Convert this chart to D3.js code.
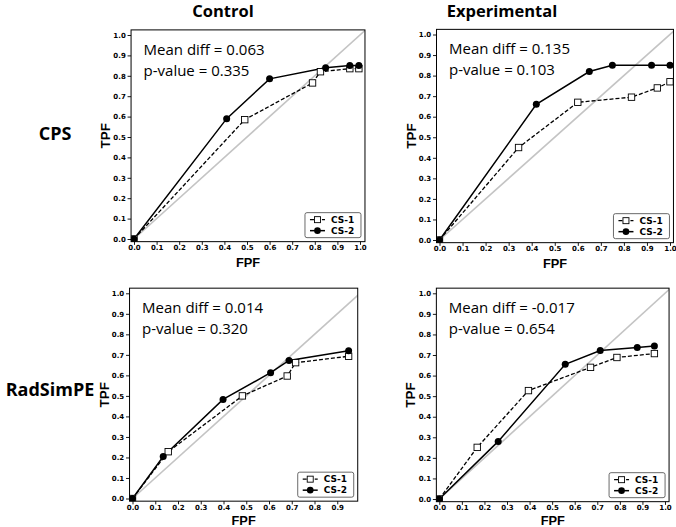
<!DOCTYPE html>
<html><head><meta charset="utf-8">
<script src="https://cdn.jsdelivr.net/npm/d3@7/dist/d3.min.js"></script>
<style>body{margin:0;background:#fff}svg{display:block}</style>
</head><body>
<svg id="c" width="676" height="527"></svg>
<script>
// ---- data ----
const columnTitles = ["Control", "Experimental"];
const rowTitles = ["CPS", "RadSimPE"];
const seriesNames = ["CS-1", "CS-2"];
const xTicks = [0,0.1,0.2,0.3,0.4,0.5,0.6,0.7,0.8,0.9,1.0];
const yTicks = [0,0.1,0.2,0.3,0.4,0.5,0.6,0.7,0.8,0.9,1.0];

const cpsControlCS1 = [[0,0],[0.49,0.585],[0.79,0.765],[0.825,0.82],[0.955,0.835],[0.995,0.835]];
const cpsControlCS2 = [[0,0],[0.41,0.59],[0.60,0.785],[0.848,0.84],[0.955,0.85],[0.995,0.85]];
const cpsExpCS1 = [[0,0],[0.343,0.45],[0.60,0.67],[0.833,0.695],[0.945,0.74],[1.0,0.77]];
const cpsExpCS2 = [[0,0],[0.42,0.66],[0.65,0.82],[0.75,0.85],[0.92,0.85],[1.0,0.85]];
const radControlCS1 = [[0,0],[0.157,0.228],[0.483,0.50],[0.68,0.597],[0.717,0.662],[0.95,0.693]];
const radControlCS2 = [[0,0],[0.135,0.205],[0.398,0.483],[0.607,0.613],[0.688,0.673],[0.95,0.72]];
const radExpCS1 = [[0,0],[0.168,0.251],[0.395,0.527],[0.67,0.64],[0.787,0.688],[0.953,0.707]];
const radExpCS2 = [[0,0],[0.261,0.28],[0.558,0.655],[0.713,0.722],[0.877,0.736],[0.953,0.744]];

const meanDiffs = ["0.063","0.135","0.014","-0.017"];
const pValues = ["0.335","0.103","0.320","0.654"];

// ---- layout (pixel positions of 0 and 1 on each axis) ----
const panels = [
  {cs1: cpsControlCS1, cs2: cpsControlCS2, md: meanDiffs[0], pv: pValues[0], px0:134, px1:360, py0:239, py1:35, xEnd:1.022},
  {cs1: cpsExpCS1, cs2: cpsExpCS2, md: meanDiffs[1], pv: pValues[1], px0:439.5, px1:670, py0:240, py1:34.5, xEnd:1.015},
  {cs1: radControlCS1, cs2: radControlCS2, md: meanDiffs[2], pv: pValues[2], px0:132.5, px1:360, py0:498.5, py1:293.3, xEnd:0.99},
  {cs1: radExpCS1, cs2: radExpCS2, md: meanDiffs[3], pv: pValues[3], px0:439.3, px1:665, py0:499, py1:293.3, xEnd:1.018}
];

const svg = d3.select("#c");
const tickFont = "DejaVu Sans";
const txtFont = "'Open Sans', 'Noto Sans', sans-serif";
const labFont = "'Liberation Sans', Arial, sans-serif";

// column titles
svg.append("text").attr("x",223).attr("y",17).attr("text-anchor","middle")
  .style("font-family",txtFont).style("font-weight","bold").style("font-size","16.5px").text(columnTitles[0]);
svg.append("text").attr("x",502).attr("y",17).attr("text-anchor","middle")
  .style("font-family",txtFont).style("font-weight","bold").style("font-size","16.5px").text(columnTitles[1]);
// row titles
svg.append("text").attr("x",55).attr("y",140).attr("text-anchor","middle")
  .style("font-family",txtFont).style("font-weight","bold").style("font-size","18px").text(rowTitles[0]);
svg.append("text").attr("x",50).attr("y",396).attr("text-anchor","middle")
  .style("font-family",txtFont).style("font-weight","bold").style("font-size","18px").text(rowTitles[1]);

panels.forEach((p,i)=>{
  const x = d3.scaleLinear().domain([0,1]).range([p.px0,p.px1]);
  const y = d3.scaleLinear().domain([0,1]).range([p.py0,p.py1]);
  const fl = x(-0.013), fr = x(p.xEnd), ft = y(1.025), fb = y(-0.013);
  const g = svg.append("g");
  const clipId = "clip"+i;
  g.append("clipPath").attr("id",clipId).append("rect")
    .attr("x",fl).attr("y",ft).attr("width",fr-fl).attr("height",fb-ft);

  // diagonal
  g.append("line").attr("clip-path",`url(#${clipId})`)
    .attr("x1",x(0)).attr("y1",y(0)).attr("x2",x(1.05)).attr("y2",y(1.05))
    .attr("stroke","#c4c4c4").attr("stroke-width",1.6);

  const line = d3.line().x(d=>x(d[0])).y(d=>y(d[1]));
  const pg = g.append("g").attr("clip-path",`url(#${clipId})`);
  pg.append("path").attr("d",line(p.cs1)).attr("fill","none").attr("stroke","#000")
    .attr("stroke-width",1.3).attr("stroke-dasharray","4,2");
  pg.append("path").attr("d",line(p.cs2)).attr("fill","none").attr("stroke","#000")
    .attr("stroke-width",1.5);
  pg.selectAll(".sq").data(p.cs1).enter().append("rect")
    .attr("x",d=>x(d[0])-3.2).attr("y",d=>y(d[1])-3.2).attr("width",6.4).attr("height",6.4)
    .attr("fill","#fff").attr("stroke","#000").attr("stroke-width",0.9);
  pg.selectAll(".ci").data(p.cs2).enter().append("circle")
    .attr("cx",d=>x(d[0])).attr("cy",d=>y(d[1])).attr("r",3.5).attr("fill","#000");

  // axes
  const ya = g.append("g").attr("transform",`translate(${fl},0)`)
    .call(d3.axisLeft(y).tickValues(yTicks).tickSize(3.5).tickPadding(1.8).tickFormat(d3.format(".1f")));
  const xTv = xTicks.filter(t=>t<=p.xEnd);
  const xa = g.append("g").attr("transform",`translate(0,${fb})`)
    .call(d3.axisBottom(x).tickValues(xTv).tickSize(3.2).tickPadding(0.6).tickFormat(d3.format(".1f")));
  [ya,xa].forEach(a=>{
    a.select(".domain").remove();
    a.selectAll("line").attr("stroke","#000").attr("stroke-width",0.9);
    a.selectAll("text").style("font-family",tickFont).style("font-weight","bold").style("font-size","7px").attr("fill","#000");
  });

  // frame
  g.append("rect").attr("x",fl).attr("y",ft).attr("width",fr-fl).attr("height",fb-ft)
    .attr("fill","none").attr("stroke","#000").attr("stroke-width",1);

  // axis labels
  const fpfY = Math.min(fb+25.5, 524.5);
  g.append("text").attr("x",(fl+fr)/2).attr("y",fpfY).attr("text-anchor","middle")
    .style("font-family",labFont).style("font-weight","bold").style("font-size","12.8px").text("FPF");
  g.append("text").attr("transform",`translate(${fl-21},${(ft+fb)/2}) rotate(-90)`).attr("text-anchor","middle")
    .style("font-family",labFont).style("font-weight","bold").style("font-size","13.5px").text("TPF");

  // annotations
  g.append("text").attr("x",fl+12.5).attr("y",ft+25).style("font-family",txtFont)
    .style("font-size","15px").text("Mean diff = "+p.md);
  g.append("text").attr("x",fl+12.5).attr("y",ft+46).style("font-family",txtFont)
    .style("font-size","15px").text("p-value = "+p.pv);

  // legend
  const lw = 56, lh = 25;
  const lx = fr - 4 - lw, ly = fb - 4 - lh;
  const lg = g.append("g");
  lg.append("rect").attr("x",lx).attr("y",ly).attr("width",lw).attr("height",lh).attr("rx",2)
    .attr("fill","#fff").attr("fill-opacity",0.85).attr("stroke","#444").attr("stroke-width",0.8);
  [0,1].forEach(k=>{
    const cy = ly + 7 + k*11;
    lg.append("line").attr("x1",lx+5).attr("x2",lx+20).attr("y1",cy).attr("y2",cy)
      .attr("stroke","#000").attr("stroke-width",k?1.5:1.3).attr("stroke-dasharray",k?null:"4,2");
    if(k===0){
      lg.append("rect").attr("x",lx+12.5-3).attr("y",cy-3).attr("width",6).attr("height",6)
        .attr("fill","#fff").attr("stroke","#000").attr("stroke-width",0.9);
    } else {
      lg.append("circle").attr("cx",lx+12.5).attr("cy",cy).attr("r",3.3).attr("fill","#000");
    }
    lg.append("text").attr("x",lx+26).attr("y",cy+3.2).style("font-family",tickFont)
      .style("font-weight","bold").style("font-size","9px").text(seriesNames[k]);
  });
});
</script>
</body></html>
